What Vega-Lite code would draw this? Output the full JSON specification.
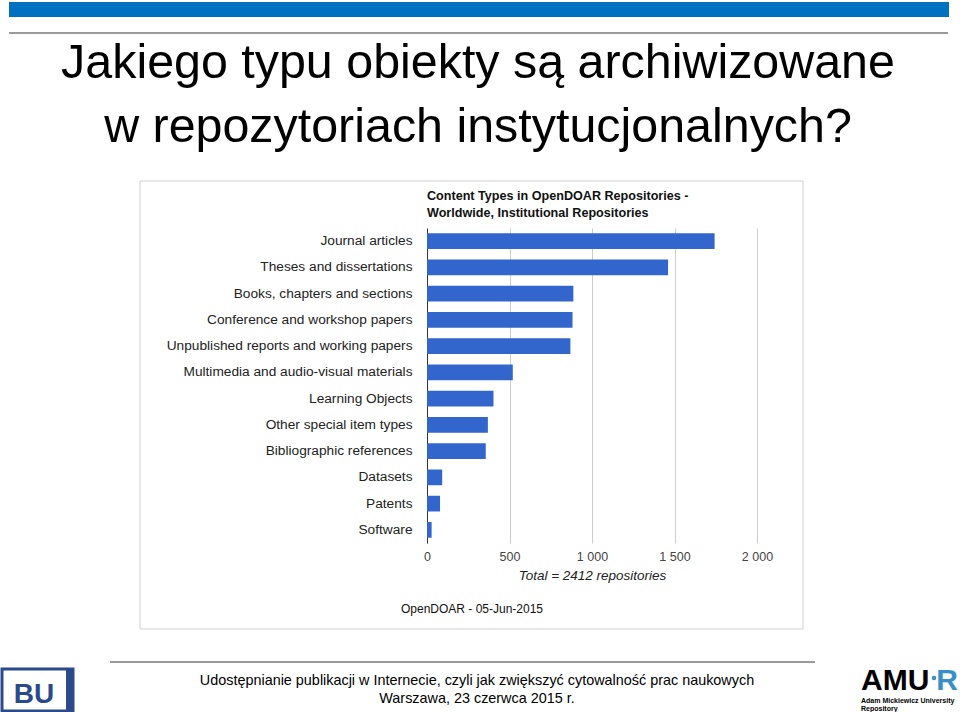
{
  "$schema": "https://vega.github.io/schema/vega-lite/v6.json",
  "autosize": "none",
  "width": 330,
  "height": 315,
  "padding": {"left": 427, "top": 228, "right": 203, "bottom": 169},
  "background": "white",
  "config": {"view": {"stroke": null}, "font": "Liberation Sans"},
  "layer": [
    {
      "data": {"values": [{"part": "top bar"}]},
      "mark": {"type": "rect", "color": "#0070C0"},
      "encoding": {"x": {"value": -418}, "x2": {"value": 522}, "y": {"value": -226}, "y2": {"value": -211}}
    },
    {
      "data": {"values": [{"part": "top line"}]},
      "mark": {"type": "rect", "color": "#9a9a9a"},
      "encoding": {"x": {"value": -418}, "x2": {"value": 521}, "y": {"value": -196}, "y2": {"value": -194}}
    },
    {
      "data": {"values": [{"t": "Jakiego typu obiekty są archiwizowane\nw repozytoriach instytucjonalnych?"}]},
      "mark": {"type": "text", "font": "Liberation Sans", "fontSize": 48.4, "align": "center", "baseline": "alphabetic", "lineBreak": "\n", "lineHeight": 64, "color": "#000000"},
      "encoding": {"text": {"field": "t"}, "x": {"value": 51}, "y": {"value": -150}}
    },
    {
      "data": {"values": [{"part": "chart frame"}]},
      "mark": {"type": "rect", "fill": null, "stroke": "#d0d0d0", "strokeWidth": 1},
      "encoding": {"x": {"value": -287}, "x2": {"value": 376}, "y": {"value": -47}, "y2": {"value": 401}}
    },
    {
      "data": {"values": [{"t": "Content Types in OpenDOAR Repositories -\nWorldwide, Institutional Repositories"}]},
      "mark": {"type": "text", "font": "Liberation Sans", "fontSize": 12.6, "fontWeight": "bold", "align": "left", "baseline": "alphabetic", "lineBreak": "\n", "lineHeight": 17, "color": "#111111"},
      "encoding": {"text": {"field": "t"}, "x": {"value": 0}, "y": {"value": -28.5}}
    },
    {
      "data": {"values": [{"t": "OpenDOAR - 05-Jun-2015"}]},
      "mark": {"type": "text", "font": "Liberation Sans", "fontSize": 12, "align": "center", "baseline": "alphabetic", "color": "#111111"},
      "encoding": {"text": {"field": "t"}, "x": {"value": 45}, "y": {"value": 385}}
    },
    {
      "data": {"values": [{"part": "footer line"}]},
      "mark": {"type": "rect", "color": "#9a9a9a"},
      "encoding": {"x": {"value": -317}, "x2": {"value": 388}, "y": {"value": 433}, "y2": {"value": 435}}
    },
    {
      "data": {"values": [{"t": "Udostępnianie publikacji w Internecie, czyli jak zwiększyć cytowalność prac naukowych\nWarszawa, 23 czerwca 2015 r."}]},
      "mark": {"type": "text", "font": "Liberation Sans", "fontSize": 14.4, "align": "center", "baseline": "alphabetic", "lineBreak": "\n", "lineHeight": 18, "color": "#000000"},
      "encoding": {"text": {"field": "t"}, "x": {"value": 50}, "y": {"value": 457}}
    },
    {
      "data": {"values": [{"part": "BU logo"}]},
      "mark": {"type": "rect", "fill": "#ffffff", "stroke": "#2b4a8c", "strokeWidth": 3},
      "encoding": {"x": {"value": -425}, "x2": {"value": -354}, "y": {"value": 441}, "y2": {"value": 483}}
    },
    {
      "data": {"values": [{"part": "BU strip"}]},
      "mark": {"type": "rect", "fill": "#2b4a8c"},
      "encoding": {"x": {"value": -361}, "x2": {"value": -354}, "y": {"value": 441}, "y2": {"value": 483}}
    },
    {
      "data": {"values": [{"t": "BU"}]},
      "mark": {"type": "text", "font": "Liberation Sans", "fontSize": 28, "fontWeight": "bold", "align": "center", "baseline": "alphabetic", "color": "#2b4a8c"},
      "encoding": {"text": {"field": "t"}, "x": {"value": -393}, "y": {"value": 475}}
    },
    {
      "data": {"values": [{"t": "AMU"}]},
      "mark": {"type": "text", "font": "Liberation Sans", "fontSize": 30, "fontWeight": "bold", "align": "left", "baseline": "alphabetic", "color": "#000000"},
      "encoding": {"text": {"field": "t"}, "x": {"value": 434}, "y": {"value": 462}}
    },
    {
      "data": {"values": [{"part": "AMUR dot"}]},
      "mark": {"type": "point", "filled": true, "color": "#3a8fc8", "size": 20, "opacity": 1},
      "encoding": {"x": {"value": 507}, "y": {"value": 450}}
    },
    {
      "data": {"values": [{"t": "R"}]},
      "mark": {"type": "text", "font": "Liberation Sans", "fontSize": 30, "fontWeight": "bold", "align": "right", "baseline": "alphabetic", "color": "#3a8fc8"},
      "encoding": {"text": {"field": "t"}, "x": {"value": 531}, "y": {"value": 462}}
    },
    {
      "data": {"values": [{"t": "Adam Mickiewicz University\nRepository"}]},
      "mark": {"type": "text", "font": "Liberation Sans", "fontSize": 7, "fontWeight": "bold", "align": "left", "baseline": "alphabetic", "lineBreak": "\n", "lineHeight": 8, "color": "#000000"},
      "encoding": {"text": {"field": "t"}, "x": {"value": 434}, "y": {"value": 475}}
    },
    {
      "data": {
        "values": [
          {"type": "Journal articles", "count": 1743},
          {"type": "Theses and dissertations", "count": 1461},
          {"type": "Books, chapters and sections", "count": 887},
          {"type": "Conference and workshop papers", "count": 882},
          {"type": "Unpublished reports and working papers", "count": 869},
          {"type": "Multimedia and audio-visual materials", "count": 520},
          {"type": "Learning Objects", "count": 403},
          {"type": "Other special item types", "count": 369},
          {"type": "Bibliographic references", "count": 356},
          {"type": "Datasets", "count": 92},
          {"type": "Patents", "count": 79},
          {"type": "Software", "count": 28}
        ]
      },
      "mark": {"type": "bar", "color": "#3366CC"},
      "encoding": {
        "y": {
          "field": "type",
          "type": "nominal",
          "sort": null,
          "scale": {"paddingInner": 0.4, "paddingOuter": 0.2},
          "axis": {
            "title": null,
            "ticks": false,
            "domain": true,
            "domainColor": "#333333",
            "domainWidth": 1,
            "labelPadding": 15,
            "labelLimit": 320,
            "labelFont": "Liberation Sans",
            "labelFontSize": 13.7,
            "labelColor": "#222222"
          }
        },
        "x": {
          "field": "count",
          "type": "quantitative",
          "scale": {"domain": [0, 2000], "nice": false},
          "axis": {
            "title": "Total = 2412 repositories",
            "titleFont": "Liberation Sans",
            "titleFontSize": 13.5,
            "titleFontStyle": "italic",
            "titleFontWeight": "normal",
            "titleColor": "#222222",
            "titlePadding": 6,
            "values": [0, 500, 1000, 1500, 2000],
            "labelExpr": "replace(format(datum.value, ','), ',', ' ')",
            "labelFont": "Liberation Sans",
            "labelFontSize": 12.5,
            "labelColor": "#444444",
            "labelPadding": 7,
            "labelFlush": false,
            "labelOverlap": false,
            "ticks": false,
            "domain": false,
            "grid": true,
            "gridColor": "#cccccc"
          }
        }
      }
    }
  ]
}
